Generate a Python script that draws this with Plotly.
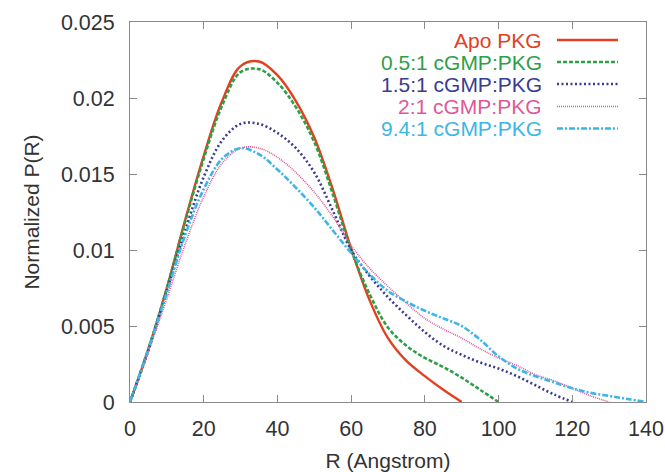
import plotly.graph_objects as go

# distance R (Angstrom) sample points per series
r_apo = [0, 5, 10, 15, 20, 25, 30, 35, 40, 45, 50, 55, 60, 65, 70, 75, 80, 85, 90]
p_apo = [0, 0.0035, 0.0075, 0.0120, 0.0162, 0.0198, 0.0221, 0.0224, 0.0215,
         0.0198, 0.0174, 0.0140, 0.0101, 0.0067, 0.0042, 0.0027, 0.0017, 0.0008, 0]

r_05 = [0, 5, 10, 15, 20, 25, 30, 35, 40, 45, 50, 55, 60, 65, 70, 75, 80, 85, 90, 95, 100]
p_05 = [0, 0.0035, 0.0075, 0.0119, 0.0160, 0.0195, 0.0217, 0.0219, 0.0210,
        0.0194, 0.0171, 0.0137, 0.0100, 0.0071, 0.0049, 0.0037, 0.0029, 0.0023, 0.0016, 0.0008, 0]

r_15 = [0, 5, 10, 15, 20, 25, 30, 35, 40, 45, 50, 55, 60, 65, 70, 75, 80, 85, 90,
        95, 100, 105, 110, 115, 120]
p_15 = [0, 0.0034, 0.0073, 0.0113, 0.0148, 0.0172, 0.0183, 0.0183, 0.0177,
        0.0167, 0.0151, 0.0126, 0.0100, 0.0083, 0.0069, 0.0057, 0.0046, 0.0037, 0.0031,
        0.0026, 0.0022, 0.0017, 0.0011, 0.0005, 0]

r_2 = [0, 5, 10, 15, 20, 25, 30, 35, 40, 45, 50, 55, 60, 65, 70, 75, 80, 85, 90,
       95, 100, 105, 110, 115, 120, 125, 130]
p_2 = [0, 0.0033, 0.0068, 0.0104, 0.0135, 0.0157, 0.0167, 0.0167, 0.0161,
       0.0151, 0.0138, 0.0122, 0.0103, 0.0088, 0.0076, 0.0065, 0.0055, 0.0048, 0.0042,
       0.0035, 0.0029, 0.0024, 0.0018, 0.0014, 0.0009, 0.0004, 0]

r_94 = [0, 5, 10, 15, 20, 25, 30, 35, 40, 45, 50, 55, 60, 65, 70, 75, 80, 85, 90,
        95, 100, 105, 110, 115, 120, 125, 130, 135, 140]
p_94 = [0, 0.0035, 0.0072, 0.0110, 0.0140, 0.0160, 0.0167, 0.0163, 0.0153, 0.0141,
        0.0128, 0.0113, 0.0098, 0.0084, 0.0073, 0.0066, 0.0060, 0.0055, 0.0050,
        0.0041, 0.0030, 0.0022, 0.0017, 0.0013, 0.0009, 0.0006, 0.0004, 0.0002, 0]

names = ["Apo PKG", "0.5:1 cGMP:PKG", "1.5:1 cGMP:PKG", "2:1 cGMP:PKG", "9.4:1 cGMP:PKG"]
colors = ["#e2401f", "#2f9e48", "#3b3b8f", "#e0589c", "#3bb6e8"]
dashes = ["solid", "4px,2px", "2px,2.5px", "1px,1px", "6px,2px,2px,2px"]
widths = [2.4, 2.6, 2.6, 1.6, 2.6]

series = [(r_apo, p_apo), (r_05, p_05), (r_15, p_15), (r_2, p_2), (r_94, p_94)]

fig = go.Figure()
for (r, p), name, c, d, w in zip(series, names, colors, dashes, widths):
    fig.add_trace(go.Scatter(x=r, y=p, name=name, mode="lines", line_shape="spline",
                             line=dict(color=c, dash=d, width=w), showlegend=False))

# legend drawn by hand: text on the left, line sample on the right
legend_y = [0.9526, 0.8947, 0.8368, 0.7776, 0.7197]
for name, c, d, w, ly in zip(names, colors, dashes, widths, legend_y):
    fig.add_annotation(x=0.8004, y=ly, xref="paper", yref="paper", text=name,
                       showarrow=False, xanchor="right", yanchor="middle", borderpad=0,
                       font=dict(color=c, size=21))
    fig.add_shape(type="line", xref="paper", yref="paper", x0=0.8275, x1=0.9457,
                  y0=ly, y1=ly, line=dict(color=c, dash=d, width=w))

axis_style = dict(showline=True, linecolor="#8a8a8a", linewidth=1, mirror="ticks",
                  ticks="inside", ticklen=7, tickcolor="#8a8a8a", showgrid=False,
                  zeroline=False, automargin=False,
                  tickfont=dict(size=21.5, color="#333333"))

fig.update_xaxes(range=[0, 140], dtick=20, tick0=0, ticklabelstandoff=7,
                 ticklabeloverflow="allow",
                 title=dict(text="R (Angstrom)", font=dict(size=21, color="#333333"), standoff=13),
                 **axis_style)
fig.update_yaxes(range=[0, 0.025], dtick=0.005, tick0=0, ticklabelstandoff=10,
                 title=dict(text="Normalized P(R)", font=dict(size=21, color="#333333"), standoff=15),
                 **axis_style)

fig.update_layout(width=665, height=472, margin=dict(l=130, r=19, t=22, b=70),
                  plot_bgcolor="white", paper_bgcolor="white",
                  font=dict(family="Liberation Sans, Arial, sans-serif", color="#333333"))

# drop the browser's default body margin so the figure sits at the page corner
fig.write_html("out.html", config={"displayModeBar": False},
               post_script="document.body.style.margin='0';")
